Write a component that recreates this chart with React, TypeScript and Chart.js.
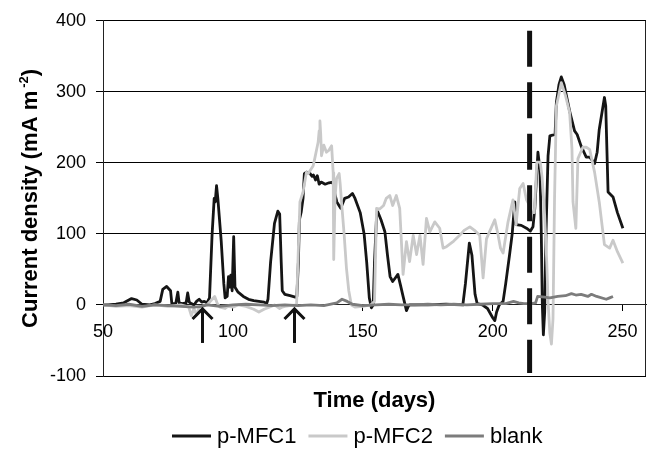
import { useEffect, useRef } from 'react';
import { Chart, registerables } from 'chart.js';

Chart.register(...registerables);

const FONT = "'Liberation Sans', Arial, Helvetica, sans-serif";

const seriesLabels = ['p-MFC1', 'p-MFC2', 'blank'];
const seriesColors = ['#151515', '#c9c9c9', '#7c7c7c'];
const xTitle = 'Time (days)';
const yTitleMain = 'Current density (mA m';
const yTitleSup = '-2';
const yTitleEnd = ')';
const xRange = [50, 259];
const yRange = [-100, 400];
const xStep = 50;
const yStep = 100;
const markerDay = 214.2;
const arrowDays = [88.3, 123.7];

const mfc1: [number, number][] = [
  [50, 0], [52, 0], [55, 1], [58, 3], [61, 9], [63, 7], [65, 1], [68, 0], [70, 2], [72, 5],
  [73, 22], [74.5, 26], [76, 20], [76.5, 2], [78, 2], [78.8, 18], [79.3, 3], [80.5, 2], [82, 3], [82.6, 17],
  [83.2, 4], [84, 2], [85, 0], [86, 5], [87, 8], [88, 4], [89, 5], [90, 3], [91, 10], [92, 100],
  [92.8, 150], [93.2, 145], [93.7, 168], [94.2, 150], [95.5, 90], [96.5, 30], [97, 10], [97.8, 12], [98.3, 40], [98.7, 25],
  [99.2, 42], [99.7, 20], [100.3, 96], [100.8, 25], [102, 18], [104, 12], [106, 8], [108, 6], [110, 5], [112, 4],
  [113, 2], [113.5, 8], [114.5, 60], [116, 115], [117.3, 132], [118, 128], [118.6, 60], [119, 20], [120, 15], [122, 13],
  [124, 11], [124.6, 12], [125.2, 60], [125.6, 120], [126.3, 131], [127, 150], [127.5, 185], [128.3, 187], [129.5, 186], [130.5, 181],
  [131, 183], [131.8, 176], [132.5, 182], [133.2, 170], [134, 173], [135.5, 170], [137, 172], [138.5, 173], [139, 160], [140, 145],
  [141.5, 136], [143, 150], [144.5, 152], [146, 157], [147, 150], [149, 130], [150.5, 100], [151.5, 60], [152.5, 10], [153.3, -4],
  [154, 0], [154.5, 60], [155.3, 125], [155.8, 131], [157, 120], [158.5, 103], [159.5, 70], [160.5, 40], [161.5, 33], [162.5, 38],
  [163.5, 43], [164.5, 28], [165.5, 12], [166.8, -8], [167.5, -2], [168, 0], [175, 0], [182, 1], [188.5, 0], [189.5, 30],
  [191, 87], [192, 70], [193.2, 15], [194, 2], [196, 0], [198, -5], [200, -18], [200.8, -22], [201.5, -10], [202.5, 0],
  [204, 5], [205, 30], [206.5, 71], [207.5, 100], [208.5, 145], [209, 113], [211, 112], [213, 108], [214.5, 104], [215.5, 110],
  [216.2, 136], [217.4, 215], [218.2, 190], [218.7, 100], [219.1, 0], [219.5, -42], [220, -10], [220.5, 100], [221.3, 210], [222, 238],
  [224, 240], [224.5, 285], [225.5, 310], [226.4, 321], [227.5, 310], [229.6, 273], [231.5, 245], [232.5, 240], [234, 224], [236, 208],
  [237.3, 208], [238, 205], [239.2, 199], [240.2, 215], [241, 247], [243, 292], [243.5, 280], [244.4, 159], [246.3, 152], [248, 130],
  [250.1, 108],
];

const mfc2: [number, number][] = [
  [50, 0], [55, -2], [60, -1], [65, -3], [70, 0], [75, -2], [80, 0], [83, -3], [84, -15], [85, -5],
  [86, -14], [87, -3], [88, -2], [90, 0], [92, 8], [93, 12], [94, 2], [95, -3], [97, -5], [98, -2],
  [100, -3], [102, 0], [105, -2], [108, -6], [110, -10], [112, -6], [114, -3], [116, 0], [118, -5], [119, -3],
  [120, -2], [122, -1], [124.5, 0], [125.2, 80], [125.8, 145], [127, 159], [128.3, 187], [129, 185], [130.9, 196], [131.5, 206],
  [132.8, 229], [133.2, 245], [133.5, 259], [133.8, 240], [134.1, 210], [135, 225], [136, 215], [137, 218], [138, 224], [138.6, 186],
  [138.8, 64], [139.3, 150], [139.9, 178], [140.9, 185], [141.3, 170], [141.8, 145], [142.8, 100], [143.7, 52], [144.6, 20], [145.6, 0],
  [147, -3], [150, -2], [153, 0], [154.5, 5], [155.3, 136], [156.5, 135], [158, 140], [159, 150], [160.4, 154], [161.5, 140],
  [162.9, 154], [164.2, 136], [165.5, 43], [166.8, 89], [168, 61], [169.4, 98], [170.7, 71], [172, 98], [173.2, 57], [174.5, 122],
  [175.8, 103], [177.7, 117], [179.6, 108], [180.9, 80], [182.2, 82], [185, 90], [187.3, 98], [189, 105], [191.2, 110], [193, 105],
  [195, 98], [196.3, 38], [197.6, 93], [199, 105], [200.8, 120], [202, 100], [203, 80], [204, 73], [205.9, 117], [207.8, 148],
  [208.6, 125], [209, 113], [210.4, 164], [211.7, 171], [213, 148], [214.2, 140], [215, 130], [216, 130], [217, 201], [218.3, 201],
  [219, 180], [220, 126], [220.8, 60], [221.3, 5], [222, -40], [222.6, -55], [223.2, -20], [223.8, 150], [224.5, 280], [226.4, 313],
  [228, 295], [229.6, 271], [230.5, 220], [230.9, 145], [232, 108], [232.8, 206], [234.7, 222], [236, 222], [237.3, 219], [239.2, 187],
  [241, 145], [243, 85], [245, 80], [246.3, 91], [248, 75], [250.1, 59],
];

const blank: [number, number][] = [
  [50, 0], [55, -1], [60, 1], [65, -2], [70, 0], [75, -1], [80, -2], [85, -3], [88, -2], [90, 0],
  [95, -2], [100, 0], [105, 1], [110, 0], [115, -1], [120, 0], [125, -1], [130, 0], [135, -1], [140, 3],
  [142, 8], [144, 5], [146, 1], [150, -1], [155, 0], [160, 1], [165, 0], [170, 0], [175, 1], [180, 0],
  [185, 1], [190, 0], [195, 1], [200, 2], [205, 2], [208, 5], [210, 3], [212, 2], [215, 2], [216.5, 3],
  [217.3, 12], [220, 11], [222, 10], [225, 12], [228, 13], [230.3, 16], [232, 14], [234, 15], [236.6, 12], [238, 15],
  [240, 12], [243.7, 8], [245, 10], [246.3, 12],
];

const seriesData = [mfc1, mfc2, blank];
const drawOrder = [2, 1, 0];

const decorPlugin = {
  id: 'decor',
  afterDraw(chart: any) {
    const { ctx, chartArea: a, scales } = chart;
    const xs = scales.x;
    const ys = scales.y;
    ctx.save();

    // right frame edge
    ctx.strokeStyle = '#222';
    ctx.lineWidth = 1;
    ctx.beginPath();
    ctx.moveTo(a.right - 0.5, a.top);
    ctx.lineTo(a.right - 0.5, a.bottom);
    ctx.stroke();

    // dashed marker line
    const mx = xs.getPixelForValue(markerDay);
    ctx.strokeStyle = '#111';
    ctx.lineWidth = 5;
    ctx.lineCap = 'butt';
    ctx.setLineDash([36, 15.5]);
    ctx.beginPath();
    ctx.moveTo(mx, a.top + 10);
    ctx.lineTo(mx, a.bottom - 3);
    ctx.stroke();
    ctx.setLineDash([]);

    // arrows
    const zeroY = ys.getPixelForValue(0);
    ctx.strokeStyle = '#111';
    ctx.lineWidth = 3;
    ctx.lineJoin = 'miter';
    for (const d of arrowDays) {
      const ax = xs.getPixelForValue(d);
      const tip = zeroY + 4;
      ctx.beginPath();
      ctx.moveTo(ax, tip + 1);
      ctx.lineTo(ax, zeroY + 38);
      ctx.stroke();
      ctx.beginPath();
      ctx.moveTo(ax - 10, tip + 10);
      ctx.lineTo(ax, tip);
      ctx.lineTo(ax + 10, tip + 10);
      ctx.stroke();
    }

    // x title
    ctx.fillStyle = '#000';
    ctx.font = `bold 22px ${FONT}`;
    ctx.textAlign = 'center';
    ctx.textBaseline = 'alphabetic';
    ctx.fillText(xTitle, (a.left + a.right) / 2, a.bottom + 31);

    // y title with superscript
    ctx.save();
    ctx.translate(37, (a.top + a.bottom) / 2);
    ctx.rotate(-Math.PI / 2);
    ctx.textAlign = 'left';
    ctx.font = `bold 22px ${FONT}`;
    const w1 = ctx.measureText(yTitleMain).width;
    const w3 = ctx.measureText(yTitleEnd).width;
    ctx.font = `bold 13px ${FONT}`;
    const w2 = ctx.measureText(yTitleSup).width;
    const gap = 3;
    const total = w1 + gap + w2 + w3;
    let cx = -total / 2;
    ctx.font = `bold 22px ${FONT}`;
    ctx.fillText(yTitleMain, cx, 0);
    cx += w1 + gap;
    ctx.font = `bold 13px ${FONT}`;
    ctx.fillText(yTitleSup, cx, -9);
    cx += w2;
    ctx.font = `bold 22px ${FONT}`;
    ctx.fillText(yTitleEnd, cx, 0);
    ctx.restore();

    // legend
    ctx.font = `22px ${FONT}`;
    ctx.textAlign = 'left';
    ctx.textBaseline = 'alphabetic';
    const lineLen = 39;
    const textGap = 6;
    const itemGap = 12;
    let lx = 172;
    const baseY = 443;
    chart.data.datasets.forEach((ds: any) => {
      ctx.strokeStyle = ds.borderColor;
      ctx.lineWidth = 3;
      ctx.beginPath();
      ctx.moveTo(lx, baseY - 7);
      ctx.lineTo(lx + lineLen, baseY - 7);
      ctx.stroke();
      lx += lineLen + textGap;
      ctx.fillStyle = '#000';
      ctx.fillText(ds.label, lx, baseY);
      lx += ctx.measureText(ds.label).width + itemGap;
    });

    ctx.restore();
  },
};

export default function App() {
  const ref = useRef<HTMLCanvasElement | null>(null);

  useEffect(() => {
    document.body.style.margin = '0';
    const canvas = ref.current;
    if (!canvas) return;
    const chart = new Chart(canvas, {
      type: 'line',
      data: {
        datasets: seriesLabels.map((label, i) => ({
          label,
          data: seriesData[i].map(([x, y]) => ({ x, y })),
          borderColor: seriesColors[i],
          backgroundColor: seriesColors[i],
          borderWidth: 2.8,
          pointRadius: 0,
          tension: 0,
          borderJoinStyle: 'round' as const,
          fill: false,
          order: drawOrder[i],
        })),
      },
      options: {
        responsive: false,
        animation: false,
        events: [],
        layout: { padding: { top: 18, right: 2, bottom: 74, left: 0 } },
        plugins: {
          legend: { display: false },
          title: { display: false },
          tooltip: { enabled: false },
        },
        scales: {
          x: {
            type: 'linear',
            min: xRange[0],
            max: xRange[1],
            position: { y: 0 } as any,
            ticks: {
              stepSize: xStep,
              includeBounds: false,
              color: '#000',
              font: { family: FONT, size: 18 },
              padding: 10,
              maxRotation: 0,
            },
            grid: {
              drawOnChartArea: false,
              drawTicks: true,
              tickLength: 6,
              color: '#000',
            },
            border: { display: true, color: '#222', width: 1 },
          },
          y: {
            type: 'linear',
            min: yRange[0],
            max: yRange[1],
            position: 'left',
            afterFit: (scale: any) => {
              scale.width = 103;
            },
            ticks: {
              stepSize: yStep,
              color: '#000',
              font: { family: FONT, size: 18 },
              padding: 10,
            },
            grid: {
              color: '#000',
              lineWidth: 1,
              tickLength: 7,
            },
            border: { display: true, color: '#222', width: 1 },
          },
        },
      },
      plugins: [decorPlugin],
    });
    return () => chart.destroy();
  }, []);

  return <canvas ref={ref} width={648} height={450} style={{ display: 'block' }} />;
}
